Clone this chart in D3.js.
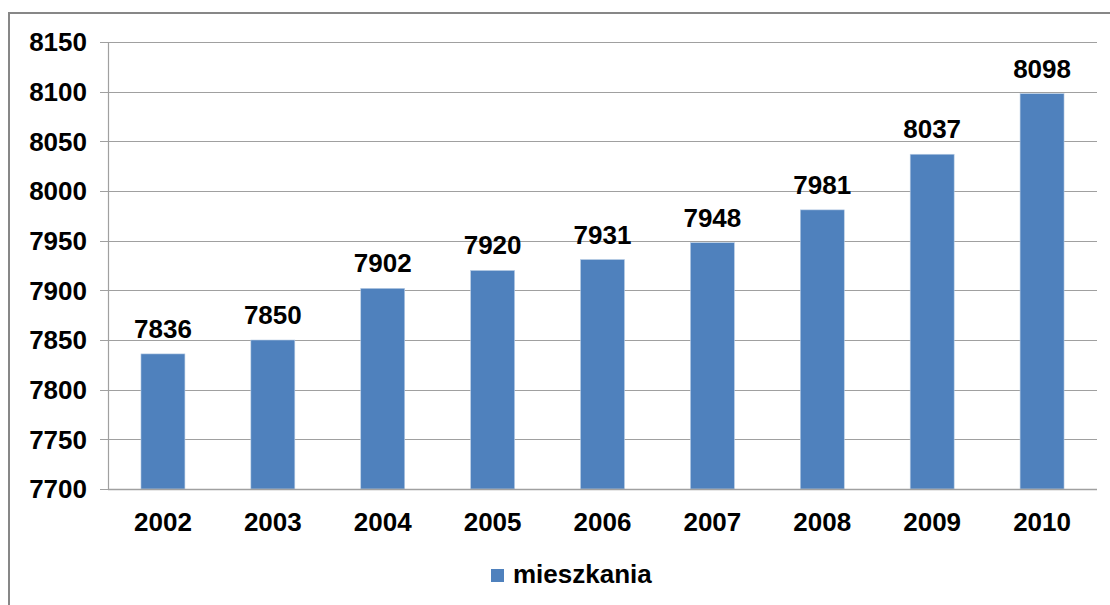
<!DOCTYPE html>
<html lang="pl">
<head>
  <meta charset="UTF-8">
  <title>mieszkania</title>
  <style>
  body { margin: 0; background: #fff; }
  svg { display: block; font-family: "Liberation Sans", Arial, sans-serif; font-weight: bold; }
  </style>
</head>
<body>
  <svg></svg>
  <script src="https://d3js.org/d3.v7.min.js"></script>
  <script>
  var years = ["2002", "2003", "2004", "2005", "2006", "2007", "2008", "2009", "2010"];
  var mieszkania = [7836, 7850, 7902, 7920, 7931, 7948, 7981, 8037, 8098];
  var yTicks = [7700, 7750, 7800, 7850, 7900, 7950, 8000, 8050, 8100, 8150];
  var seriesName = "mieszkania";

  var width = 1110, height = 605;
  // plot area edges (note: "top" is a reserved window property, so use own names)
  var plotLeft = 108, plotRight = 1097, plotTop = 42, plotBottom = 489;
  var barColor = "#4f81bd";

  var svg = d3.select("svg")
      .attr("width", width)
      .attr("height", height);

  // outer chart border (right/bottom fall off the picture)
  svg.append("rect")
      .attr("x", 9).attr("y", 13)
      .attr("width", 1110).attr("height", 610)
      .attr("fill", "none")
      .attr("stroke", "#878787")
      .attr("stroke-width", 2);

  var x = d3.scaleBand()
      .domain(years)
      .range([plotLeft, plotRight])
      .paddingInner(0.6)
      .paddingOuter(0.3);

  var y = d3.scaleLinear()
      .domain([7700, 8150])
      .range([plotBottom, plotTop]);

  // gridlines
  svg.append("g")
    .selectAll("line")
    .data(yTicks)
    .enter()
    .append("line")
      .attr("x1", plotLeft - 8)
      .attr("x2", plotRight)
      .attr("y1", d => Math.round(y(d)) + 0.5)
      .attr("y2", d => Math.round(y(d)) + 0.5)
      .attr("stroke", "#a0a0a0")
      .attr("stroke-width", 1.2);

  // y axis line
  svg.append("line")
      .attr("x1", plotLeft + 0.5).attr("x2", plotLeft + 0.5)
      .attr("y1", plotTop).attr("y2", plotBottom)
      .attr("stroke", "#a0a0a0")
      .attr("stroke-width", 1.2);

  // y tick labels
  svg.append("g")
    .selectAll("text")
    .data(yTicks)
    .enter()
    .append("text")
      .attr("x", 87)
      .attr("y", d => y(d))
      .attr("dy", "0.36em")
      .attr("text-anchor", "end")
      .attr("font-size", 26)
      .attr("fill", "#000")
      .text(d => d);

  // bars
  svg.append("g")
    .selectAll("rect")
    .data(mieszkania)
    .enter()
    .append("rect")
      .attr("x", (d, i) => x(years[i]))
      .attr("y", d => y(d))
      .attr("width", x.bandwidth())
      .attr("height", d => plotBottom - y(d))
      .attr("fill", barColor)
      .attr("stroke", "#b9cde5")
      .attr("stroke-width", 0.6);

  // x axis line over the bars
  svg.append("line")
      .attr("x1", plotLeft).attr("x2", plotRight)
      .attr("y1", Math.round(plotBottom) + 0.5).attr("y2", Math.round(plotBottom) + 0.5)
      .attr("stroke", "#a0a0a0")
      .attr("stroke-width", 1.4);

  // value labels
  svg.append("g")
    .selectAll("text")
    .data(mieszkania)
    .enter()
    .append("text")
      .attr("x", (d, i) => x(years[i]) + x.bandwidth() / 2)
      .attr("y", d => y(d) - 16)
      .attr("text-anchor", "middle")
      .attr("font-size", 26)
      .text(d => d);

  // x labels
  svg.append("g")
    .selectAll("text")
    .data(years)
    .enter()
    .append("text")
      .attr("x", d => x(d) + x.bandwidth() / 2)
      .attr("y", 531)
      .attr("text-anchor", "middle")
      .attr("font-size", 26)
      .text(d => d);

  // legend
  var legend = svg.append("g");
  legend.append("rect")
      .attr("x", 491).attr("y", 569)
      .attr("width", 13).attr("height", 13)
      .attr("fill", barColor);
  legend.append("text")
      .attr("x", 513).attr("y", 583)
      .attr("font-size", 26)
      .text(seriesName);
  </script>
</body>
</html>
